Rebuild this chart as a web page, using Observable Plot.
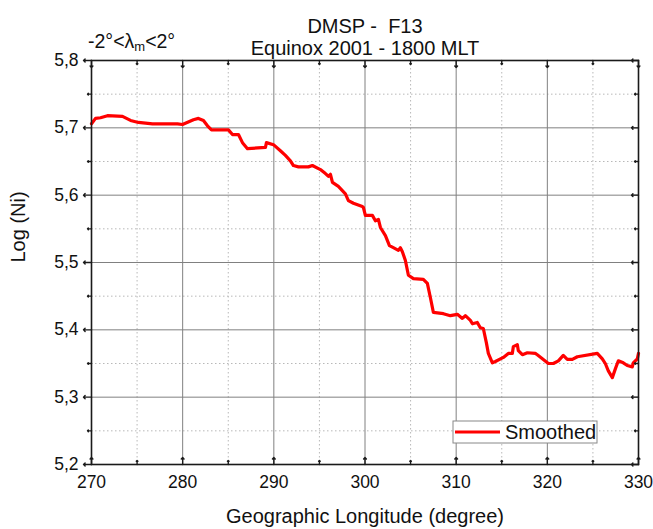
<!DOCTYPE html>
<html><head><meta charset="utf-8">
<script src="https://cdn.jsdelivr.net/npm/d3@7"></script>
<script src="https://cdn.jsdelivr.net/npm/@observablehq/plot@0.6"></script>
<style>
body{margin:0;background:#fff;}
#chart{position:relative;width:653px;height:529px;}
</style>
</head><body><div id="chart"></div>
<script>
const longitude = [270.0,270.44,270.99,271.75,273.40,274.28,275.15,276.69,279.43,279.98,281.18,281.73,282.28,282.72,283.16,285.02,285.46,286.12,286.56,287.11,289.08,289.19,289.96,290.72,291.27,291.82,292.15,292.70,293.79,294.23,295.11,295.66,295.99,296.21,296.43,297.08,297.85,298.18,298.73,299.71,299.82,300.04,300.81,301.14,301.47,301.69,302.24,302.68,303.11,303.66,303.88,304.10,304.43,304.76,305.31,306.40,306.84,307.17,307.50,308.60,309.36,310.13,310.68,311.01,311.56,311.78,312.32,312.65,312.98,313.31,313.53,313.97,314.30,315.18,315.72,316.16,316.27,316.71,316.82,317.26,317.81,318.68,318.90,319.56,320.11,320.66,321.21,321.75,322.19,322.74,323.29,325.48,326.03,326.36,326.69,327.13,327.46,327.79,328.33,328.77,329.32,329.43,329.87,330.0];
const logNi = [5.706,5.714,5.715,5.718,5.717,5.711,5.708,5.706,5.706,5.705,5.712,5.714,5.711,5.703,5.697,5.697,5.690,5.690,5.678,5.669,5.671,5.678,5.675,5.666,5.659,5.651,5.644,5.642,5.642,5.644,5.638,5.632,5.628,5.631,5.619,5.613,5.602,5.592,5.588,5.583,5.582,5.570,5.570,5.562,5.564,5.552,5.540,5.525,5.522,5.518,5.522,5.516,5.503,5.481,5.476,5.475,5.469,5.448,5.426,5.424,5.421,5.423,5.417,5.421,5.414,5.409,5.411,5.403,5.402,5.381,5.365,5.351,5.353,5.359,5.365,5.365,5.375,5.378,5.369,5.363,5.366,5.365,5.363,5.356,5.350,5.350,5.354,5.362,5.356,5.356,5.360,5.365,5.357,5.350,5.339,5.329,5.342,5.354,5.351,5.347,5.345,5.351,5.357,5.365];
const xMajor = [270,280,290,300,310,320,330];
const xMinor = [275,285,295,305,315,325];
const yMajor = [5.2,5.3,5.4,5.5,5.6,5.7,5.8];
const yMinor = [5.25,5.35,5.45,5.55,5.65,5.75];
const titleLines = ["DMSP -  F13", "Equinox 2001 - 1800 MLT"];
const latitudeLabel = ["-2°<λ", "m", "<2°"];
const xLabel = "Geographic Longitude (degree)";
const yLabel = "Log (Ni)";
const seriesName = "Smoothed";

(function () {
const data = longitude.map((x, i) => ({x, y: logNi[i]}));
const fmt = d => d.toFixed(1).replace(".", ",");
const font = "'Liberation Sans', Arial, sans-serif";
const axisColor = "#1a1a1a";

const chart = Plot.plot({
  width: 653, height: 529,
  marginLeft: 91, marginRight: 15, marginTop: 60, marginBottom: 65,
  style: {fontFamily: font, background: "#fff", color: "#111", overflow: "visible"},
  x: {domain: [270, 330], axis: null},
  y: {domain: [5.2, 5.8], axis: null},
  marks: [
    Plot.ruleX(xMinor, {stroke: "#b8b8b8", strokeDasharray: "1.5,2.5", strokeWidth: 1}),
    Plot.ruleY(yMinor, {stroke: "#b8b8b8", strokeDasharray: "1.5,2.5", strokeWidth: 1}),
    Plot.ruleX(xMajor.slice(1, -1), {stroke: "#808080", strokeWidth: 1}),
    Plot.ruleY(yMajor.slice(1, -1), {stroke: "#808080", strokeWidth: 1}),
    Plot.line(data, {x: "x", y: "y", stroke: "#ff0000", strokeWidth: 3.2, strokeLinejoin: "round", strokeLinecap: "round"}),
    Plot.frame({stroke: axisColor, strokeWidth: 1.6}),
    Plot.vector(yMajor, {y: d => d, frameAnchor: "left", length: 8, rotate: 270, anchor: "start", stroke: axisColor, strokeWidth: 1.4}),
    Plot.vector(yMinor, {y: d => d, frameAnchor: "left", length: 4, rotate: 270, anchor: "start", stroke: axisColor, strokeWidth: 1.4}),
    Plot.vector(yMajor, {y: d => d, frameAnchor: "right", length: 7, rotate: 270, anchor: "start", stroke: axisColor, strokeWidth: 1.4}),
    Plot.vector(yMinor, {y: d => d, frameAnchor: "right", length: 4, rotate: 270, anchor: "start", stroke: axisColor, strokeWidth: 1.4}),
    Plot.vector(xMajor, {x: d => d, frameAnchor: "bottom", length: 7, rotate: 0, anchor: "start", stroke: axisColor, strokeWidth: 1.4}),
    Plot.vector(xMinor, {x: d => d, frameAnchor: "bottom", length: 4, rotate: 0, anchor: "start", stroke: axisColor, strokeWidth: 1.4}),
    Plot.vector(xMajor, {x: d => d, frameAnchor: "top", length: 7, rotate: 180, anchor: "start", stroke: axisColor, strokeWidth: 1.4}),
    Plot.vector(xMinor, {x: d => d, frameAnchor: "top", length: 4, rotate: 180, anchor: "start", stroke: axisColor, strokeWidth: 1.4}),
    Plot.text(yMajor, {y: d => d, text: fmt, frameAnchor: "left", dx: -13, textAnchor: "end", fontSize: 17.5, fill: "#111"}),
    Plot.text(xMajor, {x: d => d, text: d => String(d), frameAnchor: "bottom", dy: 23, fontSize: 17.5, fill: "#111"}),
    Plot.text([yLabel], {text: d => d, frameAnchor: "left", dx: -73, rotate: -90, fontSize: 20, fill: "#111"}),
    Plot.text([xLabel], {text: d => d, frameAnchor: "bottom", dy: 58, fontSize: 20, fill: "#111"}),
    Plot.text([titleLines[0]], {text: d => d, frameAnchor: "top", dy: -42, fontSize: 20, fill: "#111"}),
    Plot.text([titleLines[1]], {text: d => d, frameAnchor: "top", dy: -20, fontSize: 20, fill: "#111"})
  ]
});

document.getElementById("chart").appendChild(chart);

const svg = d3.select(chart);
const xs = chart.scale("x"), ys = chart.scale("y");
const fLeft = xs.range[0], fRight = xs.range[1], fTop = ys.range[1], fBottom = ys.range[0];

const lat = svg.append("text")
  .attr("x", fLeft - 3).attr("y", fTop - 19)
  .attr("dy", "0.35em").attr("text-anchor", "start")
  .attr("font-family", font).attr("font-size", 19.5).attr("fill", "#111");
lat.append("tspan").text(latitudeLabel[0]);
lat.append("tspan").text(latitudeLabel[1]).attr("font-size", 13).attr("dy", 3);
lat.append("tspan").text(latitudeLabel[2]).attr("dy", -3);

const lg = svg.append("g");
const lgX = fRight - 185, lgY = fBottom - 43, lgW = 144, lgH = 22;
lg.append("rect").attr("x", lgX).attr("y", lgY).attr("width", lgW).attr("height", lgH)
  .attr("fill", "#fff").attr("stroke", "#888").attr("stroke-width", 1);
lg.append("line").attr("x1", lgX + 2).attr("x2", lgX + 47).attr("y1", lgY + lgH / 2).attr("y2", lgY + lgH / 2)
  .attr("stroke", "#ff0000").attr("stroke-width", 3.2);
lg.append("text").attr("x", lgX + 52).attr("y", lgY + lgH / 2).attr("dy", "0.35em").attr("text-anchor", "start")
  .attr("font-family", font).attr("font-size", 20).attr("fill", "#111").text(seriesName);
})();
</script>
</body></html>
